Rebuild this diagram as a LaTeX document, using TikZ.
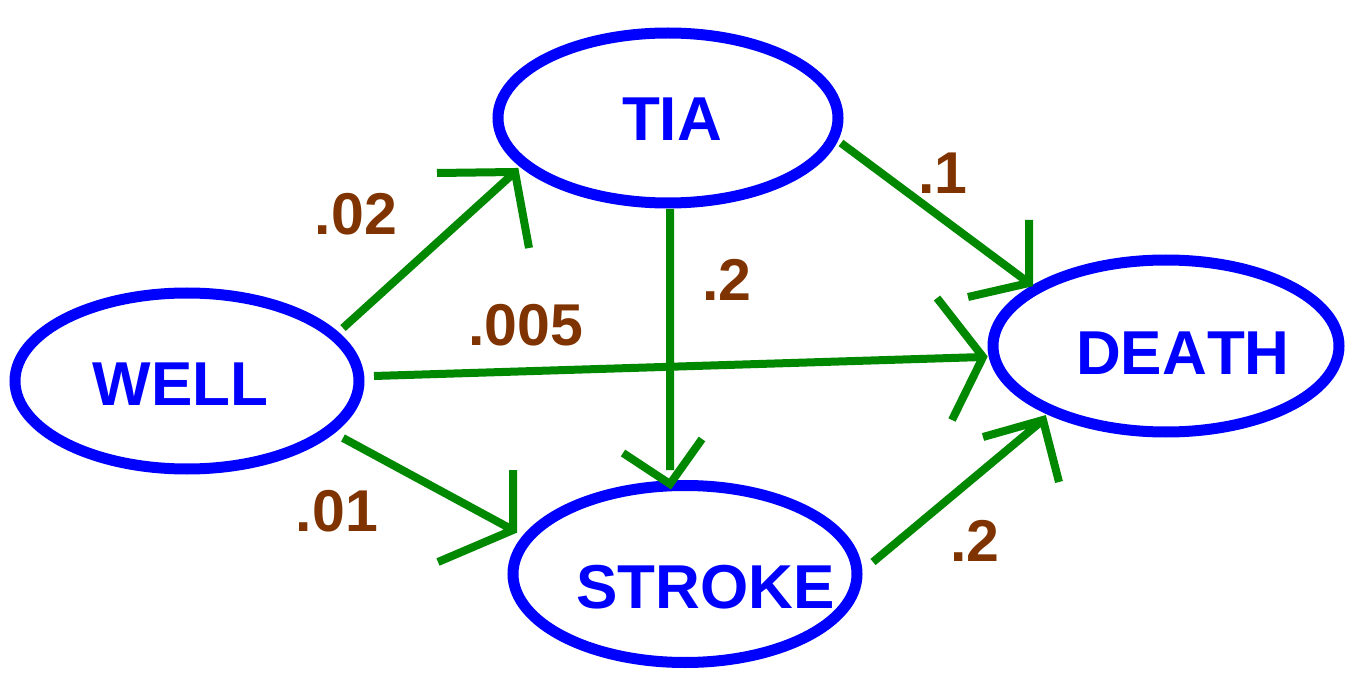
\documentclass[tikz,border=0pt]{standalone}
\usepackage{fontspec}
\setmainfont[Kerning=Off]{Liberation Sans}
\usetikzlibrary{shapes.geometric}
\definecolor{nodeblue}{RGB}{0,0,255}
\definecolor{arrgreen}{RGB}{0,136,0}
\definecolor{probbrown}{RGB}{127,51,0}
\begin{document}
\begin{tikzpicture}[x=1pt,y=-1pt,
  statebox/.style={ellipse,draw=nodeblue,line width=11pt,inner sep=0pt},
  statetext/.style={text=nodeblue,font=\fontsize{62}{62}\selectfont\bfseries,inner sep=0pt},
  prob/.style={text=probbrown,font=\fontsize{59}{59}\selectfont\bfseries,inner sep=0pt},
  conn/.style={draw=arrgreen,line width=8pt,line cap=butt,line join=miter,miter limit=3}]
\useasboundingbox (0,0) rectangle (1353,679);
% states
\node[statebox,minimum width=344pt,minimum height=176pt] (well) at (187,381) {};
\node[statebox,minimum width=340pt,minimum height=170pt] (tia) at (668,118) {};
\node[statebox,minimum width=346pt,minimum height=172pt] (death) at (1166,346) {};
\node[statebox,minimum width=344pt,minimum height=177pt] (stroke) at (685,574) {};
\node[statetext] (wellt) at (180.5,384.5) {WELL};
\node[statetext] (tiat) at (672,119) {TIA};
\node[statetext] (deatht) at (1183,353.5) {DEATH};
\node[statetext] (stroket) at (705.5,587.5) {STROKE};
% connectors
\coordinate (t1) at ([shift={(-153,54)}]tia.center);
\draw[conn] ([shift={(156,-53)}]well.center) -- (t1)
  ([shift={(-78,1)}]t1) -- (t1) -- ++(14,76);
\coordinate (t2) at ([shift={(-183,11)}]death.center);
\draw[conn] ([shift={(187,-5)}]well.center) -- (t2)
  ([shift={(-46,-59)}]t2) -- (t2) -- ++(-31,63);
\coordinate (t3) at ([shift={(-172,-44)}]stroke.center);
\draw[conn] ([shift={(156,57)}]well.center) -- (t3)
  ([shift={(0,-60)}]t3) -- (t3) -- ++(-75,32);
\coordinate (t4) at ([shift={(-15,-90)}]stroke.center);
\draw[conn] ([shift={(2,91)}]tia.center) -- ([shift={(-15,-104)}]stroke.center)
  ([shift={(-47,-31)}]t4) -- (t4) -- ++(32,-45);
\coordinate (t5) at ([shift={(-137,-63)}]death.center);
\draw[conn] ([shift={(173,25)}]tia.center) -- (t5)
  ([shift={(0,-63)}]t5) -- (t5) -- ++(-61,14);
\coordinate (t6) at ([shift={(-123,74)}]death.center);
\draw[conn] ([shift={(188,-12)}]stroke.center) -- (t6)
  ([shift={(-60,17)}]t6) -- (t6) -- ++(16,62);
% probabilities
\node[prob] (p1) at (356,214) {.02};
\node[prob] (p2) at (526,325) {.005};
\node[prob] (p3) at (337,511) {.01};
\node[prob] (p4) at (727,280) {.2};
\node[prob] (p5) at (943,173) {.1};
\node[prob] (p6) at (975,541) {.2};
\end{tikzpicture}
\end{document}
